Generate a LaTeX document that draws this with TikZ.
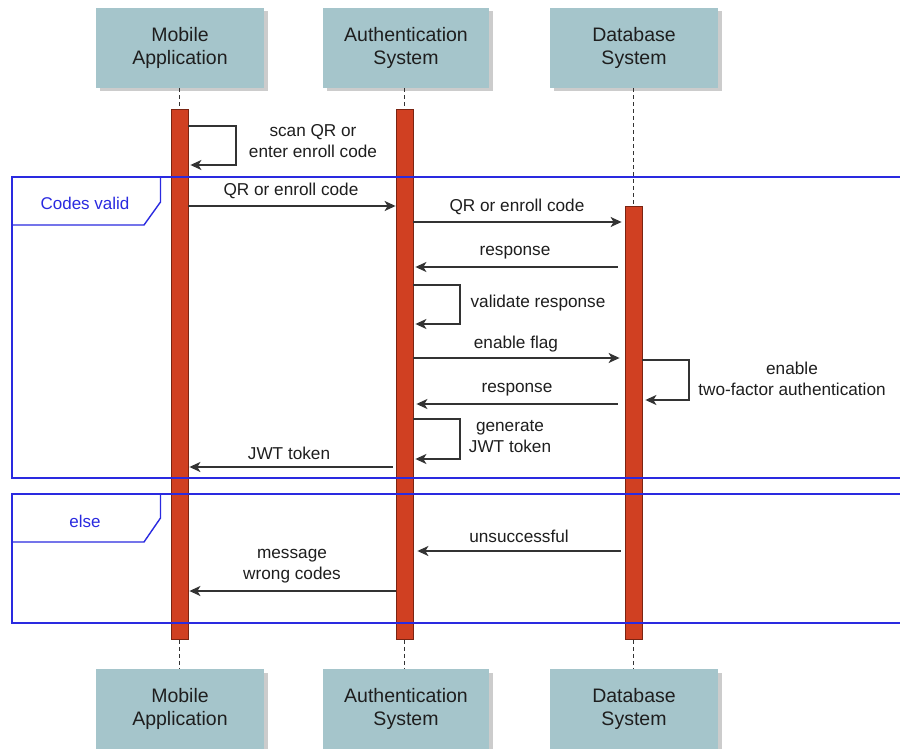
\documentclass[tikz,border=0pt]{standalone}
\usepackage{fontspec}
\setmainfont{Liberation Sans}
\usetikzlibrary{arrows.meta,shadows}

\definecolor{headfill}{HTML}{A5C5CB}
\definecolor{barfill}{HTML}{D04022}
\definecolor{barline}{HTML}{7A2412}
\definecolor{framecol}{HTML}{2A2AE0}
\definecolor{msgcol}{HTML}{333333}
\definecolor{txtcol}{HTML}{1E1E1E}

\tikzset{
  head/.style={fill=headfill, minimum width=168pt, minimum height=80pt,
    inner sep=0pt, align=center, text=txtcol,
    font=\fontsize{19.5}{22.5}\selectfont,
    general shadow={fill=black!20, shadow xshift=3.5pt, shadow yshift=-3.5pt}},
  actbar/.style={fill=barfill, draw=barline, line width=0.8pt,
    minimum width=17pt, inner sep=0pt, anchor=north},
  lifeline/.style={draw=msgcol, line width=1.4pt, dash pattern=on 4pt off 3pt},
  msg/.style={draw=msgcol, line width=1.5pt,
    -{Stealth[length=11pt,width=10pt,inset=3pt]}},
  lbl/.style={inner sep=0pt, align=center, text=txtcol,
    font=\fontsize{17.2}{21}\selectfont},
  frameline/.style={draw=framecol, line width=1.4pt},
  framelbl/.style={inner sep=0pt, text=framecol,
    font=\fontsize{17}{20}\selectfont}
}

\begin{document}
\begin{tikzpicture}[x=1pt,y=-1pt]
\useasboundingbox (0,0) rectangle (900,749);
\clip (0,0) rectangle (900,749);
\fill[white] (0,0) rectangle (900,749);

% participants, top and bottom
\node[head] (mobT)  at (180,48)  {Mobile\\Application};
\node[head, minimum width=166pt] (authT) at (406,48)  {Authentication\\System};
\node[head] (dbT)   at (634,48)  {Database\\System};
\node[head] (mobB)  at (180,709) {Mobile\\Application};
\node[head, minimum width=166pt] (authB) at (406,709) {Authentication\\System};
\node[head] (dbB)   at (634,709) {Database\\System};

% activation bars
\node[actbar, minimum height=530pt] (mob)  at (179.5,109) {};
\node[actbar, minimum height=530pt] (auth) at (404.5,109) {};
\node[actbar, minimum height=433pt] (db)   at (633.5,206) {};

% lifelines
\draw[lifeline] (mob.north |- mobT.south)   -- (mob.north);
\draw[lifeline] (auth.north |- authT.south) -- (auth.north);
\draw[lifeline] (db.north |- dbT.south)     -- (db.north);
\draw[lifeline] (mob.south)  -- (mob.south |- mobB.north);
\draw[lifeline] (auth.south) -- (auth.south |- authB.north);
\draw[lifeline] (db.south)   -- (db.south |- dbB.north);

% combined fragment: Codes valid
\draw[frameline] (12,177) rectangle (920,478);
\draw[frameline] (12,225) -- (144,225) -- (160.5,202) -- (160.5,177);
\node[framelbl] (fragA) at (85,203) {Codes valid};

% combined fragment: else
\draw[frameline] (12,494) rectangle (920,623);
\draw[frameline] (12,542) -- (144,542) -- (160.5,518) -- (160.5,494);
\node[framelbl] (fragB) at (85,521) {else};

% scan QR or enter enroll code
\draw[msg] (mob.east |- 0,126) -- (236,126) -- (236,165) -- ([xshift=2pt]mob.east |- 0,165);
\node[lbl] at (313,141) {scan QR or\\enter enroll code};

% QR or enroll code: mobile -> auth
\draw[msg] (mob.east |- 0,206) -- (auth.west |- 0,206);
\node[lbl] at (291,191) {QR or enroll code};

% QR or enroll code: auth -> db
\draw[msg, shorten >=3pt] (auth.east |- 0,222) -- (db.west |- 0,222);
\node[lbl] at (517,207) {QR or enroll code};

% response
\draw[msg, shorten <=7pt] (db.west |- 0,267) -- ([xshift=2pt]auth.east |- 0,267);
\node[lbl] at (515,253) {response};

% validate response
\draw[msg] (auth.east |- 0,285) -- (460,285) -- (460,324) -- ([xshift=2pt]auth.east |- 0,324);
\node[lbl] at (538,303) {validate response};

% enable flag
\draw[msg, shorten >=5pt] (auth.east |- 0,358) -- (db.west |- 0,358);
\node[lbl] at (516,344) {enable flag};

% enable two-factor authentication
\draw[msg] (db.east |- 0,360) -- (689,360) -- (689,400) -- ([xshift=3pt]db.east |- 0,400);
\node[lbl] at (792,379) {enable\\two-factor authentication};

% response
\draw[msg, shorten <=7pt] (db.west |- 0,404) -- ([xshift=3pt]auth.east |- 0,404);
\node[lbl] at (517,390) {response};

% generate JWT token
\draw[msg] (auth.east |- 0,419) -- (460,419) -- (460,459) -- ([xshift=2pt]auth.east |- 0,459);
\node[lbl] at (510,437) {generate\\JWT token};

% JWT token
\draw[msg, shorten <=3pt] (auth.west |- 0,467) -- ([xshift=1pt]mob.east |- 0,467);
\node[lbl] at (289,453) {JWT token};

% unsuccessful
\draw[msg, shorten <=4pt] (db.west |- 0,551) -- ([xshift=4pt]auth.east |- 0,551);
\node[lbl] at (519,536) {unsuccessful};

% message wrong codes
\draw[msg] (auth.west |- 0,591) -- ([xshift=1pt]mob.east |- 0,591);
\node[lbl] at (292,566) {message\\wrong codes};
\end{tikzpicture}
\end{document}
